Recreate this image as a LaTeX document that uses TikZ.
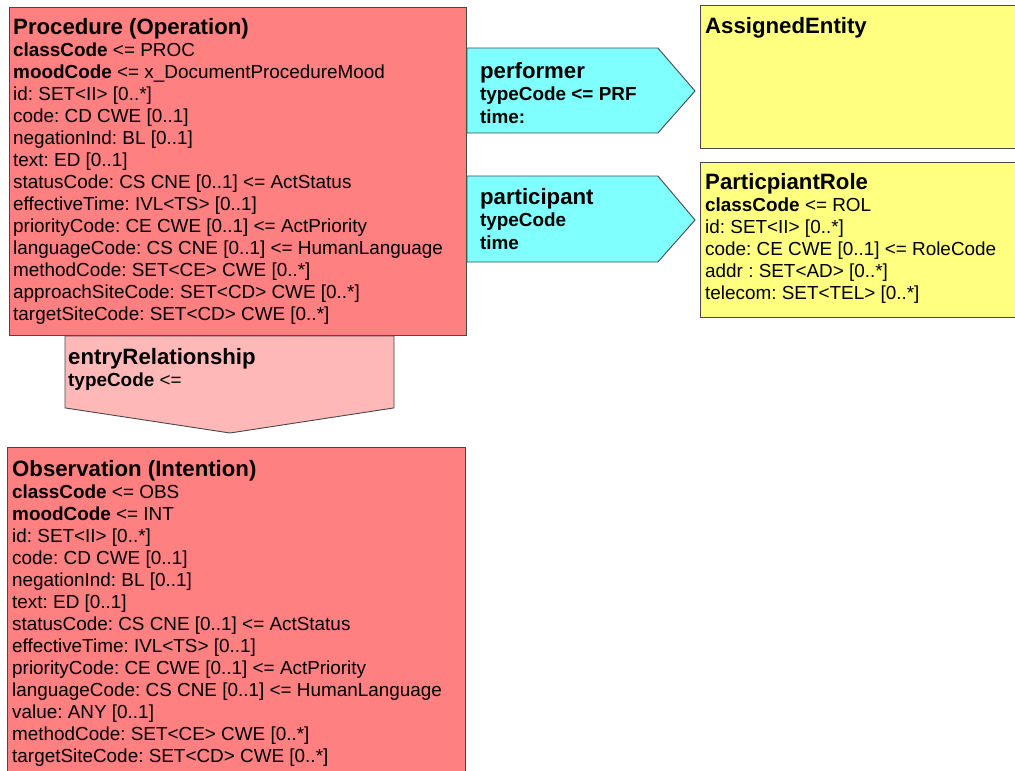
\documentclass[tikz,border=0pt]{standalone}
\usepackage{fontspec}
\setmainfont{Liberation Sans}
\usetikzlibrary{positioning,calc}
\frenchspacing
\definecolor{actred}{RGB}{255,128,128}
\definecolor{relpink}{RGB}{255,184,184}
\definecolor{partcyan}{RGB}{128,255,255}
\definecolor{roleyellow}{RGB}{255,255,128}
\definecolor{edgegray}{RGB}{72,72,72}
\tikzset{
  classbox/.style={draw=edgegray, line width=0.9pt, anchor=north west, inner sep=0pt},
  attrs/.style={anchor=north west, inner sep=0pt, align=left, font=\frenchspacing\fontsize{18.9}{22}\selectfont},
  reltext/.style={anchor=north west, inner sep=0pt, align=left, font=\bfseries\fontsize{18.9}{22.5}\selectfont},
  relshape/.style={draw=edgegray, line width=0.9pt, line join=miter}
}
\newcommand{\clsname}[1]{{\fontsize{22.2}{22}\selectfont\bfseries #1}}

\begin{document}
\begin{tikzpicture}[x=1pt,y=-1pt]
  \clip (0,0) rectangle (1015,771);
  \fill[white] (0,0) rectangle (1015,771);

  % act boxes
  \node (proc) [classbox, fill=actred, minimum width=457pt, minimum height=328pt] at (9,7) {};
  \node (obs) [classbox, fill=actred, minimum width=458pt, minimum height=340pt] at (7,447) {};
  % role boxes
  \node (entity) [classbox, fill=roleyellow, minimum width=330pt, minimum height=143pt] at (700,5) {};
  \node (role) [classbox, fill=roleyellow, minimum width=330pt, minimum height=155pt] at (700,162) {};

  % relationships
  \draw[relshape, fill=partcyan] ($(proc.north east)+(0,41)$) -- ++(191,0)
    -- ($(entity.north west)+(-5,86)$) -- ($(proc.north east)+(191,126)$)
    -- ($(proc.north east)+(0,126)$) -- cycle;
  \draw[relshape, fill=partcyan] ($(proc.north east)+(0,169)$) -- ++(191,0)
    -- ($(role.north west)+(-5,58)$) -- ($(proc.north east)+(191,255)$)
    -- ($(proc.north east)+(0,255)$) -- cycle;
  \draw[relshape, fill=relpink] ($(proc.south west)+(56,0)$) -- ($(proc.south west)+(385,0)$)
    -- ($(proc.south west)+(385,72)$) -- ($(obs.north west)+(223,-14)$)
    -- ($(proc.south west)+(56,72)$) -- cycle;

  \node (proctext) [attrs] at ($(proc.north west)+(4,11.5)$) {%
    \clsname{Procedure (Operation)}\\
    \textbf{classCode} <= PROC\\
    \textbf{moodCode} <= x\_DocumentProcedureMood\\
    id: SET<II> [0..*]\\
    code: CD CWE [0..1]\\
    negationInd: BL [0..1]\\
    text: ED [0..1]\\
    statusCode: CS CNE [0..1] <= ActStatus\\
    effectiveTime: IVL<TS> [0..1]\\
    priorityCode: CE CWE [0..1] <= ActPriority\\
    languageCode: CS CNE [0..1] <= HumanLanguage\\
    methodCode: SET<CE> CWE [0..*]\\
    approachSiteCode: SET<CD> CWE [0..*]\\
    targetSiteCode: SET<CD> CWE [0..*]};

  \node (obstext) [attrs] at ($(obs.north west)+(5,13.5)$) {%
    \clsname{Observation (Intention)}\\
    \textbf{classCode} <= OBS\\
    \textbf{moodCode} <= INT\\
    id: SET<II> [0..*]\\
    code: CD CWE [0..1]\\
    negationInd: BL [0..1]\\
    text: ED [0..1]\\
    statusCode: CS CNE [0..1] <= ActStatus\\
    effectiveTime: IVL<TS> [0..1]\\
    priorityCode: CE CWE [0..1] <= ActPriority\\
    languageCode: CS CNE [0..1] <= HumanLanguage\\
    value: ANY [0..1]\\
    methodCode: SET<CE> CWE [0..*]\\
    targetSiteCode: SET<CD> CWE [0..*]};

  \node (entitytext) [attrs] at ($(entity.north west)+(5,12)$) {\clsname{AssignedEntity}};

  \node (roletext) [attrs] at ($(role.north west)+(5,11.5)$) {%
    \clsname{ParticpiantRole}\\
    \textbf{classCode} <= ROL\\
    id: SET<II> [0..*]\\
    code: CE CWE [0..1] <= RoleCode\\
    addr : SET<AD> [0..*]\\
    telecom: SET<TEL> [0..*]};

  \node (perftext) [reltext] at ($(proc.north east)+(13,55)$) {%
    \clsname{performer}\\ typeCode <= PRF\\ time:};
  \node (parttext) [reltext] at ($(proc.north east)+(13,181)$) {%
    \clsname{participant}\\ typeCode\\ time};
  \node (entrytext) [attrs] at ($(proc.south west)+(59,12)$) {%
    \clsname{entryRelationship}\\ \textbf{typeCode} <=};
\end{tikzpicture}
\end{document}
